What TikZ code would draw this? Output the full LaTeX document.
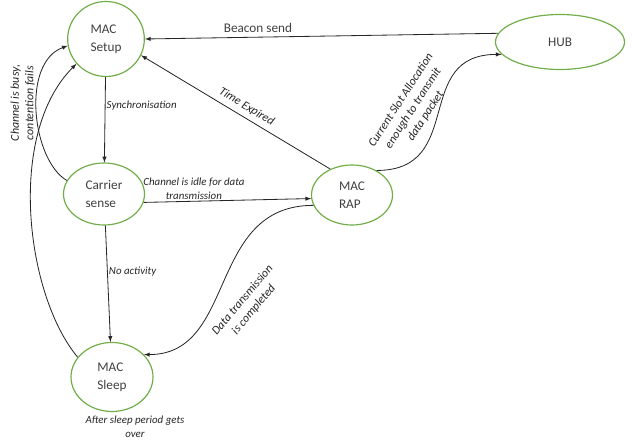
\documentclass[tikz,border=0pt]{standalone}
\usepackage{fontspec}
\setmainfont{Carlito}
\usepackage{tikz}
\usetikzlibrary{shapes.geometric, arrows}
\definecolor{stategreen}{RGB}{112, 173, 71}
\definecolor{statetext}{RGB}{64, 64, 64}

\begin{document}
\begin{tikzpicture}[
    state/.style={
        ellipse,
        draw=stategreen,
        fill=white,
        line width=1pt,
        inner sep=0pt,
        align=left,
        text=statetext,
        font=\fontsize{11.3}{15.3}\selectfont
    },
    arrow/.style={
        ->,
        >=latex,
        line width=0.7pt,
        black!85
    },
    lbl/.style={
        font=\fontsize{9.3}{12}\selectfont\itshape,
        text=black!85,
        align=center,
        inner sep=1pt
    },
    rlbl/.style={
        lbl,
        font=\fontsize{10.2}{12.5}\selectfont\itshape
    }
]

% Page frame
\useasboundingbox (0,0) rectangle (18.96,13.2);

% States
\node[state, minimum width=2.3cm, minimum height=2.25cm] (setup) at (3.18,12.03) {MAC\\Setup};
\node[state, minimum width=2.43cm, minimum height=1.86cm] (carrier) at (3.12,7.38) {Carrier\\sense};
\node[state, minimum width=2.46cm, minimum height=2.07cm] (sleep) at (3.36,1.89) {MAC\\Sleep};
\node[state, minimum width=2.43cm, minimum height=1.8cm] (rap) at (10.56,7.35) {MAC\\RAP};
\node[state, minimum width=3.87cm, minimum height=1.65cm] (hub) at (16.8,11.94) {HUB};

% Transitions
\draw[arrow] (hub.172) -- node[above, pos=0.68, text=statetext, font=\fontsize{11.3}{14}\selectfont] {Beacon send} (setup.east);
\draw[arrow] (setup) -- node[lbl, right, pos=0.33] {Synchronisation} (carrier);
\draw[arrow] (carrier.-12) -- node[lbl, above, pos=0.3] {Channel is idle for data\\transmission} (rap.-175);
\draw[arrow] (carrier) -- node[lbl, right, pos=0.4] {No activity} (sleep);
\draw[arrow] (rap.130) -- node[rlbl, sloped, above=3pt, pos=0.47] {Time Expired} (setup.-25);
\draw[arrow] (rap.45) .. controls +(right:2.7) and +(left:2.7) .. (hub.192);
\draw[arrow] (rap.195) .. controls +(left:3.2) and +(right:2.8) .. (sleep.35);
\draw[arrow] (carrier.160) .. controls +(150:1.2) and +(200:1.5) .. (setup.190);
\draw[arrow] (sleep.150) .. controls +(130:2.4) and +(225:3) .. (setup.220);

% Curve labels
\node[rlbl, rotate=90] (busylbl) at (0.68,10.11) {Channel is busy,\\contention fails};
\node[rlbl, rotate=57] (slotlbl) at (12.4,9.95) {Current Slot Allocation\\enough to transmit\\data packet};
\node[rlbl, rotate=50] (donelbl) at (7.45,4.05) {Data transmission\\is completed};
\node[lbl] (sleeplbl) at (4.05,0.39) {After sleep period gets\\over};

\end{tikzpicture}
\end{document}
